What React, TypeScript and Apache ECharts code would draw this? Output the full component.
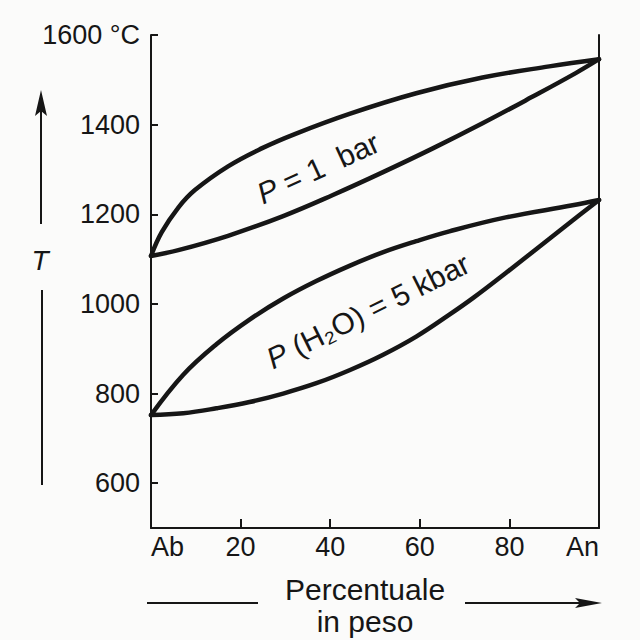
import React, { useEffect, useRef } from "react";
import * as echarts from "echarts";

// Composition (wt % An) and temperature (°C)
const liq1X = [0, 2.4, 6.1, 9.8, 17.2, 24.7, 32.1, 44.3, 59.2, 74, 88.9, 100];
const liq1T = [1107, 1160, 1215, 1254, 1307, 1347, 1379, 1424, 1470, 1505, 1530, 1546];
const sol1X = [0, 6.1, 17.2, 29.5, 40.6, 51.8, 62.9, 74, 85.1, 94.8, 100];
const sol1T = [1107, 1120, 1152, 1196, 1243, 1294, 1347, 1403, 1462, 1515, 1546];

const liq5X = [0, 7.2, 14.6, 22, 29.5, 36.9, 44.3, 51.7, 59.2, 66.6, 79.2, 94.1, 100];
const liq5T = [752, 842, 910, 965, 1012, 1051, 1085, 1115, 1140, 1162, 1193, 1220, 1232];
const sol5X = [0, 7.2, 14.6, 22, 29.5, 36.9, 44.3, 51.7, 59.2, 66.6, 72, 79.2, 86.6, 94.1, 100];
const sol5T = [752, 756, 767, 781, 800, 823, 852, 886, 927, 976, 1014, 1069, 1127, 1186, 1232];

const xTicks = [0, 20, 40, 60, 80, 100];
const xTickLabels = ["Ab", "20", "40", "60", "80", "An"];
const yTicks = [600, 800, 1000, 1200, 1400, 1600];
const yTickLabels = ["600", "800", "1000", "1200", "1400", "1600 °C"];

const label1Rest = " = 1  bar";
const label5Rest = " (H₂O) = 5 kbar";
const italicP = "P";
const xTitle1 = "Percentuale";
const xTitle2 = "in peso";
const yTitle = "T";

const INK = "#161616";
const FONT = "'Liberation Sans', Arial, Helvetica, sans-serif";

function zip(xs: number[], ys: number[]) {
  return xs.map((x, i) => [x, ys[i]]);
}

export default function App() {
  const ref = useRef<HTMLDivElement>(null);
  useEffect(() => {
    if (!ref.current) return;
    const chart = echarts.init(ref.current, null, { renderer: "svg" });
    const curve = (name: string, data: number[][]) => ({
      name,
      type: "line",
      data,
      smooth: 0.4,
      symbol: "none",
      lineStyle: { color: INK, width: 4.5, cap: "round", join: "round" },
      z: 3,
    });
    const rich = {
      i: { fontSize: 30, fontStyle: "italic", fontFamily: FONT, fill: INK },
      n: { fontSize: 30, fontFamily: FONT, fill: INK },
    };
    chart.setOption({
      animation: false,
      backgroundColor: "#fbfbfa",
      grid: { left: 151, right: 41, top: 35, bottom: 112, containLabel: false },
      xAxis: {
        type: "value",
        min: 0,
        max: 100,
        interval: 20,
        splitLine: { show: false },
        axisLine: { show: true, lineStyle: { color: INK, width: 2 } },
        axisTick: { show: true, inside: true, length: 9, lineStyle: { color: INK, width: 2 } },
        axisLabel: {
          show: true,
          margin: 5,
          color: INK,
          fontSize: 27,
          fontFamily: FONT,
          alignMinLabel: "left",
          alignMaxLabel: "right",
          formatter: (v: number) => {
            const i = xTicks.indexOf(v);
            return i >= 0 ? xTickLabels[i] : "";
          },
        },
      },
      yAxis: [
        {
          type: "value",
          min: 500,
          max: 1600,
          position: "left",
          splitLine: { show: false },
          axisLine: { show: true, onZero: false, lineStyle: { color: INK, width: 2 } },
          axisTick: {
            show: true,
            inside: true,
            length: 7,
            customValues: yTicks,
            lineStyle: { color: INK, width: 2 },
          },
          axisLabel: {
            show: true,
            margin: 11,
            color: INK,
            fontSize: 27,
            fontFamily: FONT,
            customValues: yTicks,
            formatter: (v: number) => {
              const i = yTicks.indexOf(v);
              return i >= 0 ? yTickLabels[i] : "";
            },
          },
        },
        {
          type: "value",
          min: 500,
          max: 1600,
          position: "right",
          splitLine: { show: false },
          axisLine: { show: true, onZero: false, lineStyle: { color: INK, width: 2 } },
          axisTick: { show: false },
          axisLabel: { show: false },
        },
      ],
      series: [
        curve("liq1", zip(liq1X, liq1T)),
        curve("sol1", zip(sol1X, sol1T)),
        curve("liq5", zip(liq5X, liq5T)),
        curve("sol5", zip(sol5X, sol5T)),
      ],
      graphic: [
        {
          type: "text",
          x: 318,
          y: 168,
          rotation: 0.43,
          style: {
            text: `{i|${italicP}}{n|${label1Rest}}`,
            rich,
            align: "center",
            verticalAlign: "middle",
          },
        },
        {
          type: "text",
          x: 368,
          y: 311,
          rotation: 0.46,
          style: {
            text: `{i|${italicP}}{n|${label5Rest}}`,
            rich,
            align: "center",
            verticalAlign: "middle",
          },
        },
        {
          type: "text",
          x: 365,
          y: 589,
          style: { text: xTitle1, fontSize: 30, fontFamily: FONT, fill: INK, align: "center", verticalAlign: "middle" },
        },
        {
          type: "text",
          x: 365,
          y: 621,
          style: { text: xTitle2, fontSize: 30, fontFamily: FONT, fill: INK, align: "center", verticalAlign: "middle" },
        },
        {
          type: "line",
          shape: { x1: 147, y1: 603, x2: 258, y2: 603 },
          style: { stroke: INK, lineWidth: 2 },
        },
        {
          type: "line",
          shape: { x1: 465, y1: 603, x2: 585, y2: 603 },
          style: { stroke: INK, lineWidth: 2 },
        },
        {
          type: "polygon",
          shape: { points: [[602, 603], [575, 598], [580, 603], [575, 608]] },
          style: { fill: INK },
        },
        {
          type: "line",
          shape: { x1: 41, y1: 105, x2: 41, y2: 224 },
          style: { stroke: INK, lineWidth: 2 },
        },
        {
          type: "polygon",
          shape: { points: [[41, 90], [35, 116], [41, 111], [47, 116]] },
          style: { fill: INK },
        },
        {
          type: "line",
          shape: { x1: 42, y1: 290, x2: 42, y2: 485 },
          style: { stroke: INK, lineWidth: 2 },
        },
        {
          type: "text",
          x: 40,
          y: 260,
          style: {
            text: yTitle,
            fontSize: 28,
            fontStyle: "italic",
            fontFamily: FONT,
            fill: INK,
            align: "center",
            verticalAlign: "middle",
          },
        },
      ],
    });
    return () => chart.dispose();
  }, []);
  return (
    <div
      ref={ref}
      style={{ position: "fixed", left: 0, top: 0, width: 640, height: 640 }}
    />
  );
}
